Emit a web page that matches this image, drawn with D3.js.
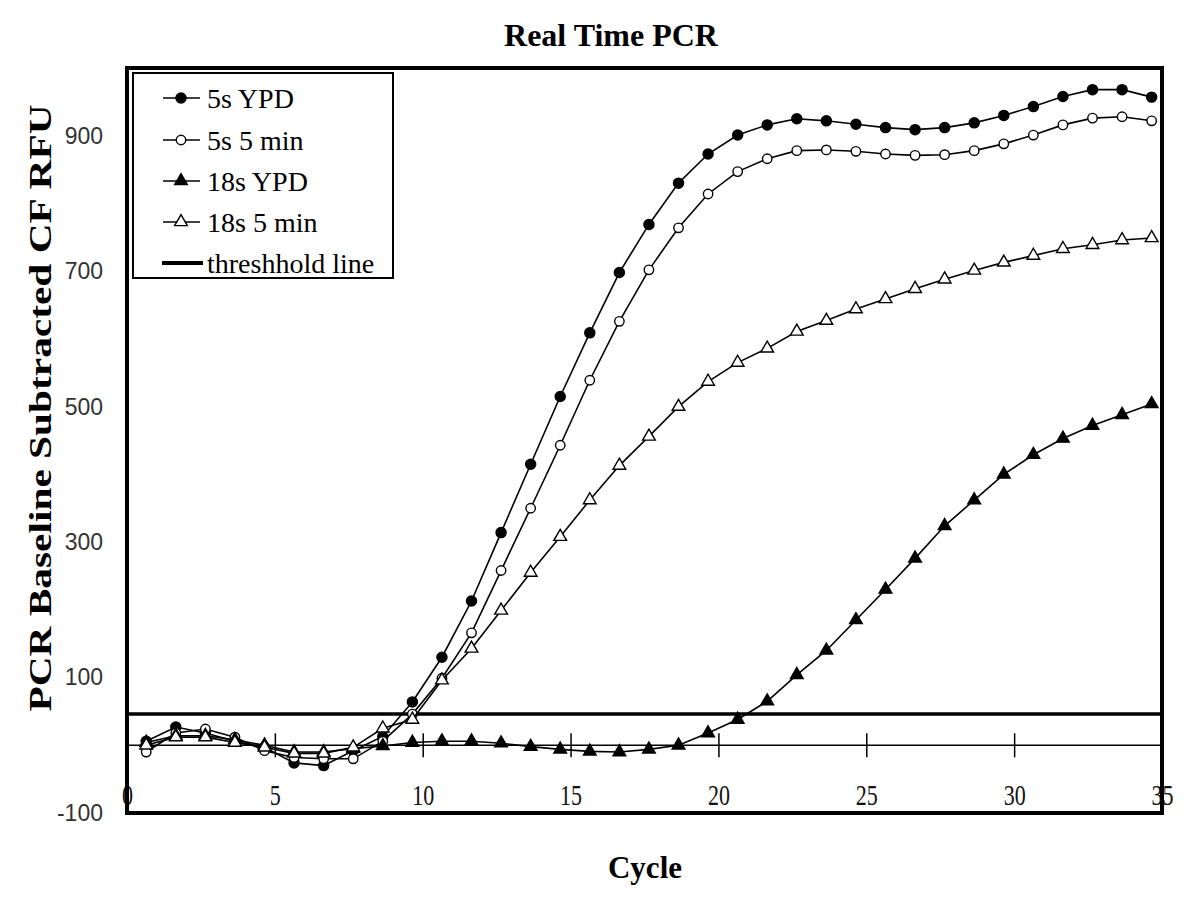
<!DOCTYPE html>
<html>
<head>
<meta charset="utf-8">
<script src="https://cdn.jsdelivr.net/npm/d3@7"></script>
<style>
  body { margin: 0; background: #fff; }
</style>
</head>
<body>
<svg id="svg1" width="1198" height="899"></svg>
<script>
// data
var cycles = d3.range(1, 36);
var ypd5s   = [6, 27, 18, 6, -3, -26, -30, -8, 13, 64, 130, 213, 314, 415, 515, 609, 698, 769, 830, 873, 901, 916, 925, 922, 917, 912, 909, 912, 919, 930, 943, 958, 968, 968, 957];
var min5s   = [-10, 18, 24, 12, -8, -18, -20, -20, 6, 46, 99, 166, 258, 350, 443, 539, 626, 702, 764, 814, 847, 866, 878, 879, 877, 873, 871, 872, 878, 888, 901, 916, 926, 928, 922];
var ypd18s  = [4, 14, 14, 8, 0, -10, -10, -5, -1, 4, 6, 6, 3, -2, -6, -9, -10, -6, 0, 18, 38, 65, 104, 140, 185, 230, 276, 324, 362, 400, 429, 453, 472, 488, 504];
var min18s  = [0, 12, 12, 4, -3, -12, -12, -3, 25, 38, 96, 143, 199, 255, 308, 362, 413, 456, 500, 537, 565, 586, 611, 627, 644, 659, 674, 688, 701, 713, 723, 733, 739, 746, 749];
var threshold = 46;
var xTicks = [0, 5, 10, 15, 20, 25, 30, 35];
var yTicks = [-100, 100, 300, 500, 700, 900];

var series = [
  {name: "5s YPD",    values: ypd5s,  shape: d3.symbolCircle,   size: 80, filled: true},
  {name: "5s 5 min",  values: min5s,  shape: d3.symbolCircle,   size: 70, filled: false},
  {name: "18s YPD",   values: ypd18s, shape: d3.symbolTriangle, size: 70, filled: true},
  {name: "18s 5 min", values: min18s, shape: d3.symbolTriangle, size: 70, filled: false}
];

var plotLeft = 127, plotRight = 1162, plotTop = 68, plotBottom = 813;
var cycleShift = 0.35; // points sit slightly left of the whole-number ticks

var svg = d3.select('#svg1');

var x = d3.scaleLinear().domain([0, 35]).range([plotLeft, plotRight]);
var y = d3.scaleLinear().domain([-100, 1000]).range([plotBottom, plotTop]);

// title
svg.append("text")
  .attr("x", 611).attr("y", 46)
  .attr("text-anchor", "middle")
  .attr("font-family", "Liberation Serif, Times New Roman, serif")
  .attr("font-weight", "bold")
  .attr("font-size", 32)
  .text("Real Time PCR");

// axis titles
svg.append("text")
  .attr("x", 645).attr("y", 878)
  .attr("text-anchor", "middle")
  .attr("font-family", "Liberation Serif, Times New Roman, serif")
  .attr("font-weight", "bold")
  .attr("font-size", 31)
  .text("Cycle");

svg.append("text")
  .attr("transform", "translate(51,408) rotate(-90)")
  .attr("text-anchor", "middle")
  .attr("font-family", "Liberation Serif, Times New Roman, serif")
  .attr("font-weight", "bold")
  .attr("font-size", 32)
  .attr("textLength", 607)
  .attr("lengthAdjust", "spacingAndGlyphs")
  .text("PCR Baseline Subtracted CF RFU");

// zero line + x axis
svg.append("line")
  .attr("x1", plotLeft).attr("x2", plotRight)
  .attr("y1", y(0)).attr("y2", y(0))
  .attr("stroke", "#000").attr("stroke-width", 1.5);

var xAxis = svg.append("g")
  .attr("transform", "translate(0," + y(0) + ")")
  .call(d3.axisBottom(x).tickValues(xTicks).tickSize(12));
xAxis.select(".domain").remove();
xAxis.selectAll(".tick line")
  .attr("y1", -12)
  .attr("stroke", "#000")
  .attr("stroke-width", 1.5)
  .filter(function(d) { return d === 0 || d === 35; }).remove();
xAxis.selectAll(".tick text")
  .attr("y", 38)
  .attr("fill", "#111")
  .attr("font-family", "Liberation Serif, Times New Roman, serif")
  .attr("font-size", 30)
  .attr("textLength", function(d) { return String(d).length * 11; })
  .attr("lengthAdjust", "spacingAndGlyphs");

// y axis labels
var yAxis = svg.append("g")
  .attr("transform", "translate(" + plotLeft + ",0)")
  .call(d3.axisLeft(y).tickValues(yTicks).tickSize(0).tickPadding(24)
    .tickFormat(function(d) { return String(d); }));
yAxis.select(".domain").remove();
yAxis.selectAll(".tick text")
  .attr("fill", "#333")
  .attr("font-family", "Liberation Sans, Arial, sans-serif")
  .attr("font-size", 23);

// threshold line
svg.append("line")
  .attr("x1", plotLeft).attr("x2", plotRight)
  .attr("y1", y(threshold)).attr("y2", y(threshold))
  .attr("stroke", "#000").attr("stroke-width", 3.5);

// series
var line = d3.line()
  .x(function(d) { return x(d.c - cycleShift); })
  .y(function(d) { return y(d.v); });

series.forEach(function(s) {
  var pts = cycles.map(function(c, i) { return {c: c, v: s.values[i]}; });

  svg.append("path")
    .datum(pts)
    .attr("fill", "none")
    .attr("stroke", "#000")
    .attr("stroke-width", 1.6)
    .attr("d", line);

  svg.selectAll(null)
    .data(pts)
    .enter()
    .append("path")
    .attr("transform", function(d) { return "translate(" + x(d.c - cycleShift) + "," + y(d.v) + ")"; })
    .attr("d", d3.symbol().type(s.shape).size(s.size))
    .attr("fill", s.filled ? "#000" : "#fff")
    .attr("stroke", "#000")
    .attr("stroke-width", 1.4);
});

// plot frame
svg.append("rect")
  .attr("x", plotLeft).attr("y", plotTop)
  .attr("width", plotRight - plotLeft).attr("height", plotBottom - plotTop)
  .attr("fill", "none")
  .attr("stroke", "#000")
  .attr("stroke-width", 4);

// legend
var legend = svg.append("g");
legend.append("rect")
  .attr("x", 133).attr("y", 73)
  .attr("width", 260).attr("height", 205)
  .attr("fill", "#fff")
  .attr("stroke", "#000")
  .attr("stroke-width", 2);

var legendRows = [98, 140, 181, 222, 263];

series.forEach(function(s, i) {
  var ly = legendRows[i];
  legend.append("line")
    .attr("x1", 163).attr("x2", 200)
    .attr("y1", ly).attr("y2", ly)
    .attr("stroke", "#000").attr("stroke-width", 1.6);
  legend.append("path")
    .attr("transform", "translate(181," + ly + ")")
    .attr("d", d3.symbol().type(s.shape).size(s.size))
    .attr("fill", s.filled ? "#000" : "#fff")
    .attr("stroke", "#000")
    .attr("stroke-width", 1.4);
  legend.append("text")
    .attr("x", 207).attr("y", ly)
    .attr("dy", "0.35em")
    .attr("font-family", "Liberation Serif, Times New Roman, serif")
    .attr("font-size", 28)
    .text(s.name);
});

legend.append("line")
  .attr("x1", 162).attr("x2", 203)
  .attr("y1", legendRows[4]).attr("y2", legendRows[4])
  .attr("stroke", "#000").attr("stroke-width", 4);
legend.append("text")
  .attr("x", 207).attr("y", legendRows[4])
  .attr("dy", "0.35em")
  .attr("font-family", "Liberation Serif, Times New Roman, serif")
  .attr("font-size", 28)
  .text("threshhold line");
</script>
</body>
</html>
